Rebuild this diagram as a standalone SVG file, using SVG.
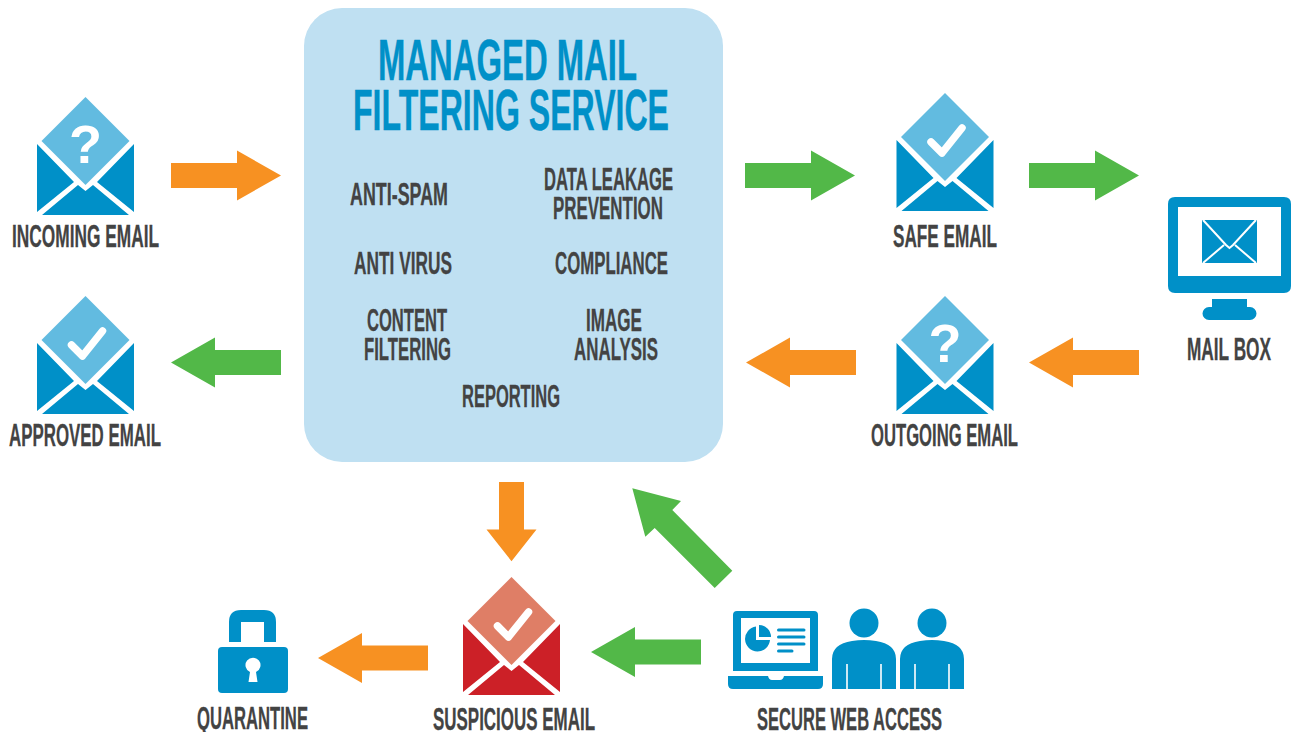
<svg xmlns="http://www.w3.org/2000/svg" width="1291" height="732" viewBox="0 0 1291 732">
<style>
.b{fill:#0090C8}
.l{font-family:"Liberation Sans",Arial,sans-serif;font-weight:700;font-size:32px;fill:#434343;stroke:#434343;stroke-width:.3}
.t{font-family:"Liberation Sans",Arial,sans-serif;font-weight:700;font-size:58px;fill:#0090C8;stroke:#0090C8;stroke-width:.4}
.o{fill:#F79122}.g{fill:#52B848}
.ck{fill:none;stroke:#fff;stroke-width:7.500;stroke-linecap:round;stroke-linejoin:round}
.q{font-family:"Liberation Sans",Arial,sans-serif;font-weight:700;font-size:54px;fill:#fff;text-anchor:middle}
</style>
<defs>
<g id="flaps">
<path d="M-48.500 47 L-11.500 85 L-48.500 115Z M48.500 47 L11.500 85 L48.500 115Z M-43.500 118 L-7.500 88 L0 94 L7.500 88 L43.500 118Z"/>
</g>
<path id="dia" d="M0 0 L44 44 L0 88 L-44 44Z"/>
<path id="arrow" d="M0 -12.500 H66 V-25 L110 0 L66 25 V12.500 H0Z"/>
<path id="ck" d="M-14 49 L-3 60 L17 35" class="ck"/>
<g id="person">
<circle cx="32" cy="-16" r="14.500"/>
<path d="M0 50 V20 Q0 5 20 2 Q32 0 44 2 Q64 5 64 20 V50 H49.800 V25 H48.200 V50 H15.800 V25 H14.200 V50Z"/>
</g>
</defs>
<rect width="1291" height="732" fill="#fff"/>
<g id="panel">
<rect x="304" y="8" width="419" height="454" rx="38" fill="#BFE0F2"/>
<text class="t" x="378" y="80" textLength="259" lengthAdjust="spacingAndGlyphs">MANAGED MAIL</text>
<text class="t" x="353" y="130" textLength="316" lengthAdjust="spacingAndGlyphs">FILTERING SERVICE</text>
<text class="l" x="350" y="205" textLength="98" lengthAdjust="spacingAndGlyphs">ANTI-SPAM</text>
<text class="l" x="544" y="190" textLength="129" lengthAdjust="spacingAndGlyphs">DATA LEAKAGE</text>
<text class="l" x="553" y="219" textLength="110" lengthAdjust="spacingAndGlyphs">PREVENTION</text>
<text class="l" x="354" y="274" textLength="98" lengthAdjust="spacingAndGlyphs">ANTI VIRUS</text>
<text class="l" x="555" y="274" textLength="113" lengthAdjust="spacingAndGlyphs">COMPLIANCE</text>
<text class="l" x="367" y="331" textLength="80" lengthAdjust="spacingAndGlyphs">CONTENT</text>
<text class="l" x="364" y="360" textLength="87" lengthAdjust="spacingAndGlyphs">FILTERING</text>
<text class="l" x="586" y="331" textLength="56" lengthAdjust="spacingAndGlyphs">IMAGE</text>
<text class="l" x="574" y="360" textLength="84" lengthAdjust="spacingAndGlyphs">ANALYSIS</text>
<text class="l" x="462" y="407" textLength="98" lengthAdjust="spacingAndGlyphs">REPORTING</text>
</g>
<g id="connectors">
<use href="#arrow" class="o" transform="translate(171 175.500)"/>
<use href="#arrow" class="g" transform="translate(281 362.500) rotate(180)"/>
<use href="#arrow" class="g" transform="translate(745 175.500)"/>
<use href="#arrow" class="g" transform="translate(1029 175.500)"/>
<use href="#arrow" class="o" transform="translate(856 362.500) rotate(180)"/>
<use href="#arrow" class="o" transform="translate(1139 362.500) rotate(180)"/>
<use href="#arrow" class="o" transform="translate(511.500 482) rotate(90) scale(.72 1)"/>
<use href="#arrow" class="o" transform="translate(428 658) rotate(180)"/>
<use href="#arrow" class="g" transform="translate(701 652) rotate(180)"/>
<path class="g" d="M632.300 488.300 L681 501 L672.300 510 L732.300 570.700 L714.700 588 L654.700 528 L645.300 536.700Z"/>
</g>
<g id="incoming-email" transform="translate(85.500 97)">
<use href="#flaps" class="b"/><use href="#dia" fill="#62BBE0"/><text class="q" y="66">?</text>
<text class="l" x="-73.500" y="150" textLength="147" lengthAdjust="spacingAndGlyphs">INCOMING EMAIL</text>
</g>
<g id="approved-email" transform="translate(85.500 296)">
<use href="#flaps" class="b"/><use href="#dia" fill="#62BBE0"/><use href="#ck"/>
<text class="l" x="-76.500" y="150" textLength="152" lengthAdjust="spacingAndGlyphs">APPROVED EMAIL</text>
</g>
<g id="safe-email" transform="translate(945 93)">
<use href="#flaps" class="b"/><use href="#dia" fill="#62BBE0"/><use href="#ck"/>
<text class="l" x="-52" y="154" textLength="104" lengthAdjust="spacingAndGlyphs">SAFE EMAIL</text>
</g>
<g id="outgoing-email" transform="translate(945 296)">
<use href="#flaps" class="b"/><use href="#dia" fill="#62BBE0"/><text class="q" y="66">?</text>
<text class="l" x="-74" y="150" textLength="147" lengthAdjust="spacingAndGlyphs">OUTGOING EMAIL</text>
</g>
<g id="suspicious-email" transform="translate(511.500 577)">
<use href="#flaps" fill="#CC2027"/><use href="#dia" fill="#DF7E66"/><use href="#ck"/>
<text class="l" x="-78.500" y="153" textLength="162" lengthAdjust="spacingAndGlyphs">SUSPICIOUS EMAIL</text>
</g>
<g id="mail-box">
<path class="b" fill-rule="evenodd" d="M1175 197 H1284 Q1291 197 1291 204 V286 Q1291 293 1284 293 H1175 Q1168 293 1168 286 V204 Q1168 197 1175 197Z M1178 207 V276 H1281 V207Z"/>
<path class="b" d="M1212 299 H1247 V307 H1250 A6.500 6.500 0 0 1 1250 320 H1209 A6.500 6.500 0 0 1 1209 307 H1212Z"/>
<rect class="b" x="1202" y="220" width="55" height="43"/>
<path d="M1203 220 L1226 245 L1229.500 248 L1233 245 L1256 220 M1203 263 L1224 245 M1256 263 L1235 245" fill="none" stroke="#fff" stroke-width="2"/>
<text class="l" x="1187" y="360" textLength="84" lengthAdjust="spacingAndGlyphs">MAIL BOX</text>
</g>
<g id="quarantine">
<path class="b" fill-rule="evenodd" d="M229 642 V622 Q229 610 241 610 H264 Q276 610 276 622 V642 H264 V622 H241 V642Z"/>
<rect class="b" x="218" y="647" width="70" height="46" rx="4"/>
<path fill="#fff" d="M250 672 A7.500 7.500 0 1 1 256 672 L257.500 682 H248.500Z"/>
<text class="l" x="197" y="729" textLength="111" lengthAdjust="spacingAndGlyphs">QUARANTINE</text>
</g>
<g id="secure-web-access">
<path class="b" fill-rule="evenodd" d="M737 611 H814 Q818 611 818 615 V671 H733 V615 Q733 611 737 611Z M741 618 V663 H810 V618Z"/>
<path class="b" d="M728 676 H768 Q769 680 772 680 H780 Q783 680 784 676 H823 V684 Q823 689 818 689 H733 Q728 689 728 684Z"/>
<path class="b" d="M756 626.500 A12.500 12.500 0 1 0 770 640 H756Z M759 625 V637 H771 A12 12 0 0 0 759 625Z"/>
<path d="M778.500 630 H804 M778.500 637 H804 M778.500 644 H804 M778.500 651 H792" stroke="#0090C8" stroke-width="3" stroke-linecap="round" fill="none"/>
<use href="#person" class="b" transform="translate(832 639)"/>
<use href="#person" class="b" transform="translate(900 639)"/>
<text class="l" x="757" y="730" textLength="185" lengthAdjust="spacingAndGlyphs">SECURE WEB ACCESS</text>
</g>
</svg>
